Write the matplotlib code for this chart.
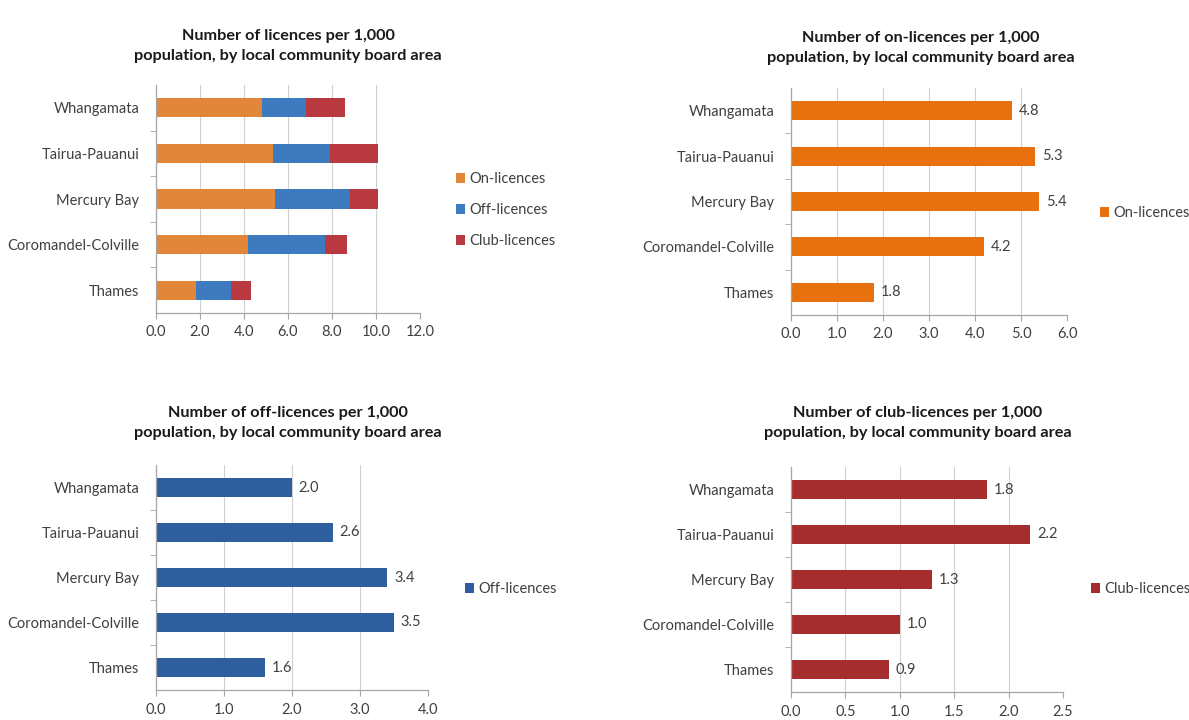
import matplotlib
matplotlib.use("Agg")
import matplotlib.pyplot as plt
from matplotlib.patches import Patch
import numpy as np

plt.rcParams['font.family'] = ['Lato', 'DejaVu Sans']

areas = ["Whangamata", "Tairua-Pauanui", "Mercury Bay", "Coromandel-Colville", "Thames"]
on_licences = [4.8, 5.3, 5.4, 4.2, 1.8]
off_licences = [2.0, 2.6, 3.4, 3.5, 1.6]
club_licences = [1.8, 2.2, 1.3, 1.0, 0.9]

title_total = "Number of licences per 1,000\npopulation, by local community board area"
title_on = "Number of on-licences per 1,000\npopulation, by local community board area"
title_off = "Number of off-licences per 1,000\npopulation, by local community board area"
title_club = "Number of club-licences per 1,000\npopulation, by local community board area"

W, H = 1189, 720
fig = plt.figure(figsize=(W / 100, H / 100), dpi=100)
fig.patch.set_facecolor("white")

TEXT = "#404040"
GRID = "#D0D0D0"
SPINE = "#A6A6A6"
FS = 10.5


def px_axes(x0, x1, y0, y1):
    return fig.add_axes([x0 / W, 1 - y1 / H, (x1 - x0) / W, (y1 - y0) / H])


def style(ax, xmax, step, fmt):
    ax.set_xlim(0, xmax)
    ax.set_ylim(len(areas) - 0.5, -0.5)
    ticks = np.arange(0, xmax + step / 2, step)
    ax.set_xticks(ticks)
    ax.set_xticklabels([fmt.format(t) for t in ticks], fontsize=FS, color=TEXT)
    ax.set_yticks(range(len(areas)))
    ax.set_yticklabels(areas, fontsize=FS, color=TEXT)
    ax.set_yticks(np.arange(0.5, len(areas) - 0.5, 1), minor=True)
    ax.tick_params(axis="y", which="major", length=0, pad=12)
    ax.tick_params(axis="y", which="minor", length=4, color=SPINE, direction="out")
    ax.tick_params(axis="x", which="major", length=4, color=SPINE, pad=5)
    ax.xaxis.grid(True, color=GRID, linewidth=0.8)
    ax.set_axisbelow(True)
    for s in ("top", "right"):
        ax.spines[s].set_visible(False)
    for s in ("left", "bottom"):
        ax.spines[s].set_color(SPINE)
        ax.spines[s].set_linewidth(0.9)


def fig_text(x, y, s):
    fig.text(x / W, 1 - y / H, s, ha="center", va="center", fontsize=11.7,
             fontweight="bold", color="#1a1a1a", linespacing=1.5)


def legend(entries, x, y, spacing=1.15):
    handles = [Patch(facecolor=c, edgecolor="none") for _, c in entries]
    fig.legend(handles, [n for n, _ in entries], loc="center left",
               bbox_to_anchor=(x / W, 1 - y / H), frameon=False,
               fontsize=FS, labelcolor=TEXT, handlelength=0.65,
               handleheight=0.65, handletextpad=0.25, labelspacing=spacing,
               borderpad=0, borderaxespad=0)


def value_labels(ax, values, xmax):
    for i, v in enumerate(values):
        ax.text(v + xmax * 0.025, i, f"{v:.1f}", va="center", ha="left",
                fontsize=FS, color=TEXT)


y = np.arange(len(areas))
bar_h = 0.42

# Stacked totals
ax1 = px_axes(156, 420, 85, 313)
c_on_s, c_off_s, c_club_s = "#E2873A", "#3D7BBE", "#B83A40"
ax1.barh(y, on_licences, height=bar_h, color=c_on_s)
ax1.barh(y, off_licences, left=on_licences, height=bar_h, color=c_off_s)
left2 = np.array(on_licences) + np.array(off_licences)
ax1.barh(y, club_licences, left=left2, height=bar_h, color=c_club_s)
style(ax1, 12.0, 2.0, "{:.1f}")
fig_text(288, 46, title_total)
legend([("On-licences", c_on_s), ("Off-licences", c_off_s), ("Club-licences", c_club_s)], 456, 210)

# On-licences
ax2 = px_axes(791, 1067, 88, 315)
c_on = "#E8700E"
ax2.barh(y, on_licences, height=bar_h, color=c_on)
style(ax2, 6.0, 1.0, "{:.1f}")
value_labels(ax2, on_licences, 6.0)
fig_text(921, 48, title_on)
legend([("On-licences", c_on)], 1100, 213)

# Off-licences
ax3 = px_axes(156, 428, 465, 690)
c_off = "#2F5E9E"
ax3.barh(y, off_licences, height=bar_h, color=c_off)
style(ax3, 4.0, 1.0, "{:.1f}")
value_labels(ax3, off_licences, 4.0)
fig_text(288, 423, title_off)
legend([("Off-licences", c_off)], 465, 589)

# Club-licences
ax4 = px_axes(791, 1063, 467, 692)
c_club = "#A52D2E"
ax4.barh(y, club_licences, height=bar_h, color=c_club)
style(ax4, 2.5, 0.5, "{:.1f}")
value_labels(ax4, club_licences, 2.5)
fig_text(918, 423, title_club)
legend([("Club-licences", c_club)], 1091, 589)

fig.savefig("out.png", dpi=100, facecolor="white")
